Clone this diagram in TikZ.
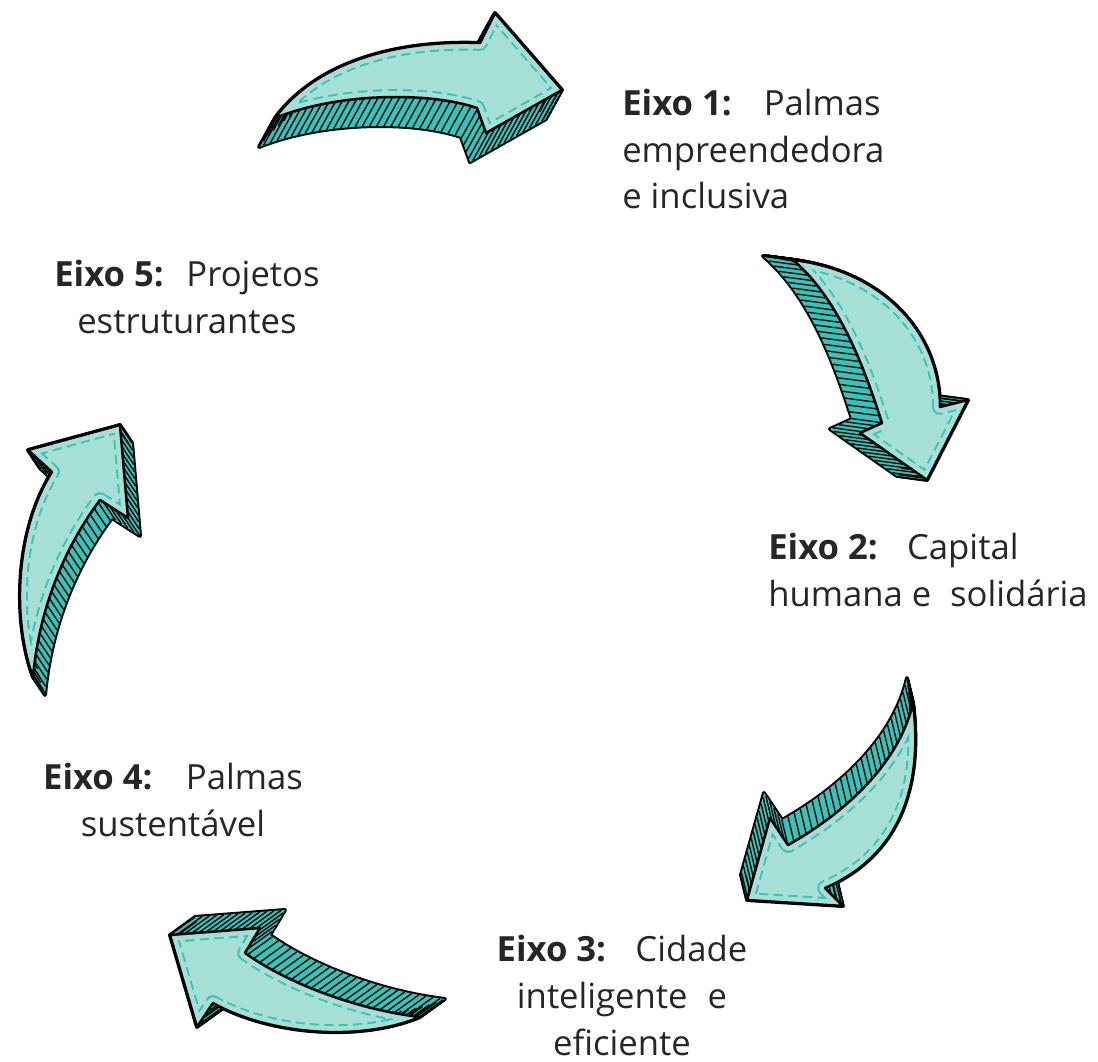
\documentclass[tikz,border=0pt]{standalone}
\usepackage{fontspec}
\setmainfont{Open Sans}
\usetikzlibrary{decorations.markings}
\definecolor{facecol}{HTML}{A6DFD6}
\definecolor{sidecol}{HTML}{36C3BA}
\definecolor{dashcol}{HTML}{3CC2B8}
\tikzset{
  lbl/.style={inner sep=0pt, font={\fontsize{26}{35}\selectfont}, text=black!85}
}
\newcommand\tdarrow[3]{%
  \foreach \i in {0,...,20}{\draw[line width=3pt, line join=round] [shift={({\i*(#2)/20},{\i*(#3)/20})}] #1;}
  \foreach \i in {0,...,20}{\fill[sidecol] [shift={({\i*(#2)/20},{\i*(#3)/20})}] #1;}
  \path[decoration={markings, mark=between positions 0 and 1 step 5.4pt with {\pgftransformresetnontranslations \draw[line width=1pt] (0,0) -- (#2,#3);}}, decorate] #1;
  \fill[facecol] #1;
  \begin{scope}
    \clip #1;
    \draw[dashcol, line width=11.8pt, dash pattern=on 7pt off 4pt, line join=round] #1;
    \draw[facecol, line width=8.8pt, line join=round] #1;
  \end{scope}
  \draw[line width=1.9pt, line join=round] #1;
}
\begin{document}
\begin{tikzpicture}[x=0.75pt,y=-0.75pt]
\useasboundingbox[fill=white] (0,0) rectangle (1098,1062);
% arrow 1 (top)
\tdarrow{(275,118) .. controls (318,60) and (400,40) .. (480,43) -- (495,13) -- (562,90) -- (486,133) -- (477,108) .. controls (430,92) and (340,92) .. (275,118) -- cycle}{-16}{29}
% arrow 2 (right top)
\tdarrow{(793,260) .. controls (880,270) and (940,330) .. (940,407) -- (968,400) -- (927,480) -- (860,433) -- (882,423) .. controls (865,370) and (840,300) .. (793,260) -- cycle}{-30}{-4}
% arrow 3 (right bottom)
\tdarrow{(913,703) .. controls (925,800) and (890,860) .. (825,888) -- (843,906) -- (747,900) -- (770,818) -- (788,845) .. controls (850,810) and (900,760) .. (913,703) -- cycle}{-6}{-25}
% arrow 4 (bottom left)
\tdarrow{(170,935) -- (260,928) -- (245,953) .. controls (290,985) and (360,1010) .. (420,1017) .. controls (360,1042) and (270,1035) .. (213,1003) -- (197,1027) -- cycle}{25}{-18}
% arrow 5 (left)
\tdarrow{(120,425) -- (128,518) -- (100,500) .. controls (70,540) and (40,600) .. (33,677) .. controls (12,620) and (15,530) .. (52,472) -- (28,450) -- cycle}{12}{18}
% labels (base anchor = baseline of the last line)
\node[lbl, anchor=base west, align=left] (e1) at (622,209) {\textbf{Eixo 1:}\hspace{24pt}Palmas\\empreendedora\\e inclusiva};
\node[lbl, anchor=base west, align=left] (e2) at (768,606) {\textbf{Eixo 2:}\hspace{22pt}Capital\\humana e\hspace{14pt}solidária};
\node[lbl, anchor=base, align=center] (e3) at (622,1055) {\textbf{Eixo 3:}\hspace{22pt}Cidade\\inteligente\hspace{15pt}e\\eficiente};
\node[lbl, anchor=base, align=center] (e4) at (173,836) {\textbf{Eixo 4:}\hspace{25pt}Palmas\\sustentável};
\node[lbl, anchor=base, align=center] (e5) at (187,333) {\textbf{Eixo 5:}\hspace{17pt}Projetos\\estruturantes};
\end{tikzpicture}
\end{document}
